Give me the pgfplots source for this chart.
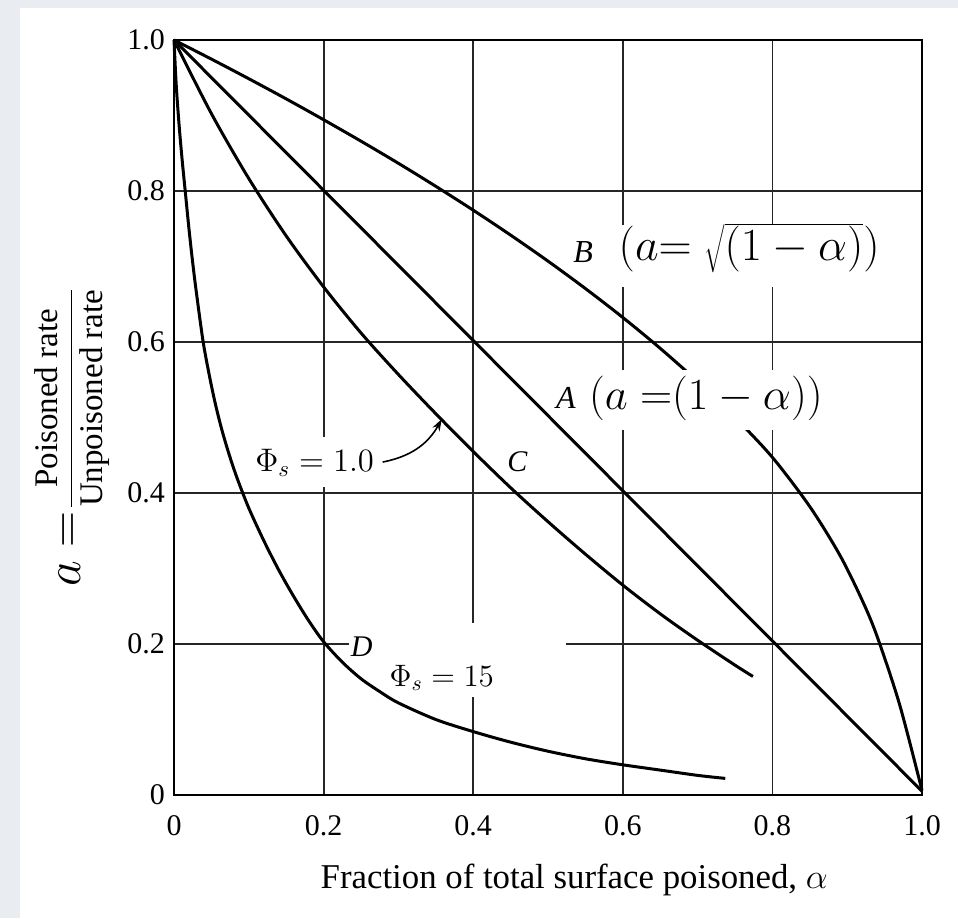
\RequirePackage{fix-cm}
\documentclass[border=0pt]{standalone}
\usepackage{fontspec}
\setmainfont{Liberation Serif}
\usepackage{pgfplots}
\pgfplotsset{compat=1.18}
\usetikzlibrary{arrows.meta}
\definecolor{bggray}{RGB}{233,236,241}
\begin{document}
\begin{tikzpicture}
\fill[bggray] (0,0) rectangle (479pt,459pt);
\fill[white] (10pt,0) rectangle (479pt,455pt);
\begin{axis}[
  at={(87pt,61.5pt)}, anchor=south west,
  scale only axis, width=374pt, height=377.5pt,
  xmin=0, xmax=1, ymin=0, ymax=1,
  xtick={0,0.2,0.4,0.6,0.8,1}, xticklabels={0,0.2,0.4,0.6,0.8,1.0},
  ytick={0,0.2,0.4,0.6,0.8,1}, yticklabels={0,0.2,0.4,0.6,0.8,1.0},
  grid=major, major grid style={line width=0.9pt, black!85},
  major tick length=0pt,
  axis line style={line width=1.3pt},
  tick label style={font=\fontsize{15}{18}\selectfont},
  xticklabel style={yshift=-6.5pt},
  yticklabel style={xshift=-1pt},
  clip=false,
]
% gaps in the grid behind the labels
\fill[white] (axis cs:0.58,0.673) rectangle (axis cs:0.82,0.755);
\fill[white] (axis cs:0.15,0.408) rectangle (axis cs:0.25,0.474);
\fill[white] (axis cs:0.234,0.130) rectangle (axis cs:0.524,0.228);

% A
\addplot[black, line width=1.5pt] coordinates {(0,1) (1,0.005)};
% B
\addplot[black, line width=1.5pt, smooth] coordinates {
(0,1) (0.05,0.9747) (0.1,0.9487) (0.15,0.9220) (0.2,0.8944) (0.25,0.8660)
(0.3,0.8367) (0.35,0.8062) (0.4,0.7746) (0.45,0.7416) (0.5,0.7071)
(0.55,0.6708) (0.6,0.6325) (0.65,0.5916) (0.7,0.5477) (0.75,0.5)
(0.8,0.4472) (0.85,0.382) (0.89,0.318) (0.92,0.258) (0.94,0.21) (0.97,0.12) (1.0,0.006)};
% C
\addplot[black, line width=1.5pt, smooth] coordinates {
(0,1) (0.05,0.9025) (0.1,0.8165) (0.15,0.7405) (0.2,0.673) (0.25,0.612)
(0.3,0.557) (0.35,0.505) (0.4,0.455) (0.45,0.407) (0.5,0.362) (0.55,0.319)
(0.6,0.278) (0.65,0.24) (0.7,0.205) (0.75,0.172) (0.774,0.157)};
% D
\addplot[black, line width=1.5pt, smooth] coordinates {
(0,1) (0.003,0.94) (0.007,0.885) (0.011,0.84) (0.015,0.80) (0.02,0.75)
(0.025,0.705) (0.03,0.665) (0.039,0.60) (0.048,0.552) (0.056,0.515)
(0.065,0.48) (0.075,0.447) (0.085,0.418) (0.1,0.38) (0.12,0.337)
(0.14,0.298) (0.16,0.263) (0.18,0.231) (0.2,0.203) (0.225,0.176)
(0.25,0.154) (0.275,0.137) (0.3,0.122) (0.35,0.1) (0.4,0.084)
(0.45,0.07) (0.5,0.058) (0.55,0.048) (0.6,0.040) (0.65,0.033)
(0.7,0.026) (0.737,0.022)};

% label box over curve B
\fill[white] (axis cs:0.54,0.483) rectangle (axis cs:0.865,0.563);

\node[font=\fontsize{16}{19}\selectfont\itshape] at (axis cs:0.547,0.719) {B};
\node[font=\fontsize{23}{28}\selectfont] at (axis cs:0.769,0.7245) {$(a{=}\;\sqrt{(1-\alpha)})$};
\node[font=\fontsize{16}{19}\selectfont\itshape] at (axis cs:0.524,0.526) {A};
\node[font=\fontsize{22.3}{27}\selectfont] at (axis cs:0.711,0.526) {$(a\;{=}(1-\alpha))$};
\node[font=\fontsize{15}{18}\selectfont\itshape] at (axis cs:0.459,0.441) {C};
\node[font=\fontsize{16.3}{19}\selectfont] at (axis cs:0.188,0.44) {$\Phi_s = 1.0$};
\draw[line width=0.8pt, -{Stealth[length=6pt,width=4pt]}] (axis cs:0.279,0.441) to[bend right=25] (axis cs:0.358,0.498);
\node[font=\fontsize{15}{18}\selectfont\itshape] at (axis cs:0.251,0.197) {D};
\node[font=\fontsize{15.5}{18}\selectfont] at (axis cs:0.358,0.155) {$\Phi_s = 15$};

\node[font=\fontsize{17.4}{20}\selectfont] at (axis cs:0.535,-0.1126) {Fraction of total surface poisoned, $\alpha$};
\node[rotate=90] at (axis cs:-0.136,0.474) {{\fontsize{25}{30}\selectfont $a =$}\hspace{1pt}{\fontsize{16.5}{20}\selectfont $\displaystyle\frac{\mbox{Poisoned rate}}{\mbox{Unpoisoned rate}}$}};
\end{axis}
\end{tikzpicture}
\end{document}
